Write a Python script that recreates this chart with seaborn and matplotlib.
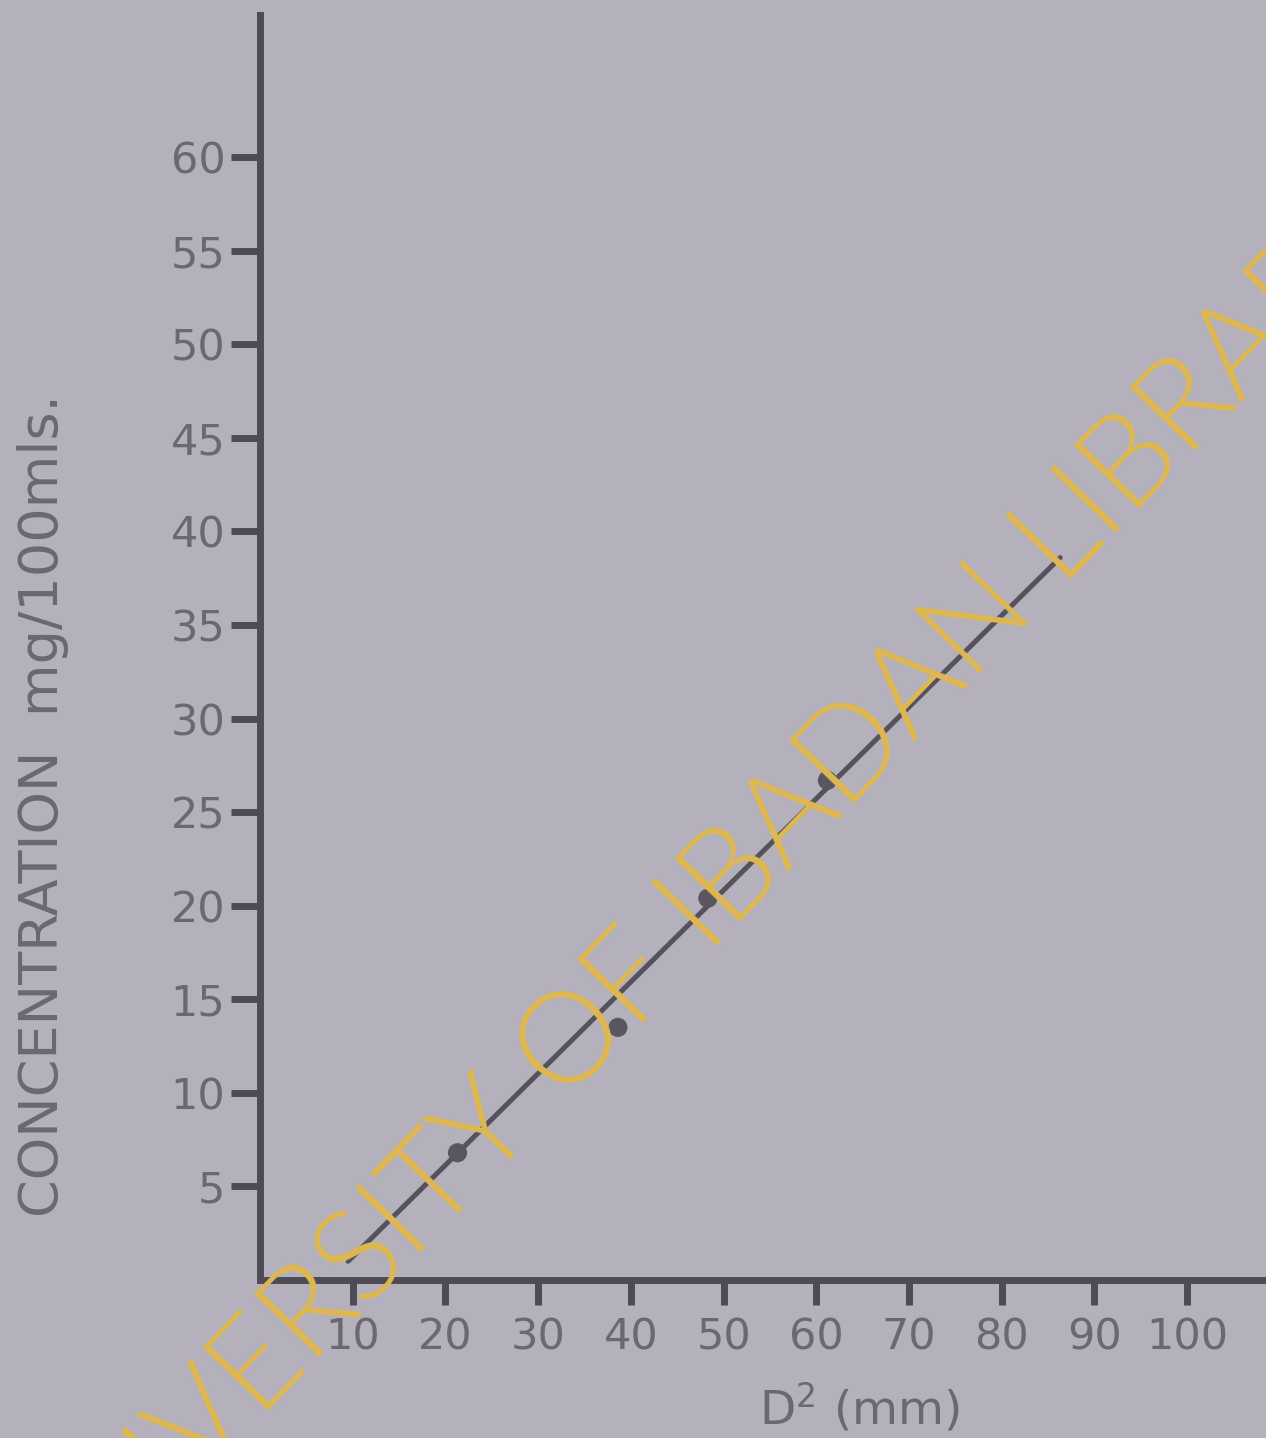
import matplotlib
matplotlib.use("Agg")
import matplotlib.pyplot as plt
import seaborn as sns
import pandas as pd

# Measured points: zone diameter squared vs concentration
d2_points = [21.3, 38.6, 48.3, 61.2]
conc_points = [6.8, 13.5, 20.4, 26.7]

# Straight calibration line drawn through the points
d2_line = [9.5, 86.3]
conc_line = [1.0, 38.6]

x_ticks = [10, 20, 30, 40, 50, 60, 70, 80, 90, 100]
y_ticks = [5, 10, 15, 20, 25, 30, 35, 40, 45, 50, 55, 60]

paper = "#b4b0bc"
ink = "#6c6871"
axis_ink = "#4e4b54"
stamp = "#dfb84f"

sns.set_theme(style="ticks")
plt.rcParams["font.family"] = ["DejaVu Sans"]

W, H = 1266, 1438
fig = plt.figure(figsize=(W / 100, H / 100), dpi=100, facecolor=paper)
ax = fig.add_axes([260 / W, 1 - 1280 / H, 1 - 260 / W, (1280 - 15) / H])
ax.set_facecolor(paper)

line_df = pd.DataFrame({"d2": d2_line, "conc": conc_line})
pts_df = pd.DataFrame({"d2": d2_points, "conc": conc_points})

sns.lineplot(data=line_df, x="d2", y="conc", ax=ax, color="#55525b",
             linewidth=3.6, zorder=3)
sns.scatterplot(data=pts_df, x="d2", y="conc", ax=ax, color="#59565f",
                s=190, edgecolor="none", zorder=4)

ax.set_xlim(0, 108.5)
ax.set_ylim(0, 67.6)

for side in ("top", "right"):
    ax.spines[side].set_visible(False)
for side in ("left", "bottom"):
    ax.spines[side].set_color(axis_ink)
    ax.spines[side].set_linewidth(5)

ax.set_xticks(x_ticks)
ax.set_xticklabels([str(v) for v in x_ticks])
ax.set_yticks(y_ticks)
ax.set_yticklabels([str(v) for v in y_ticks])

ax.tick_params(axis="x", direction="out", length=18, width=5,
               color=axis_ink, labelcolor=ink, labelsize=31, pad=8)
ax.tick_params(axis="y", direction="out", length=21, width=5,
               color=axis_ink, labelcolor=ink, labelsize=31, pad=4)

ax.set_xlabel(r"D$^{2}$ (mm)", color=ink, fontsize=34)
ax.xaxis.set_label_coords(0.596, -0.08)
ax.set_ylabel("CONCENTRATION  mg/100mls.", color=ink, fontsize=39)
ax.yaxis.set_label_coords(-0.19, 0.375)

# Library stamp across the plot
fig.text(700 / W, 1 - 912 / H, "UNIVERSITY OF IBADAN LIBRARY",
         color=stamp, fontsize=92, fontweight=300,
         family=["Lato", "Open Sans", "DejaVu Sans"],
         rotation=46, rotation_mode="anchor", ha="center", va="center",
         zorder=10)

fig.savefig("out.png", dpi=100, facecolor=paper)
